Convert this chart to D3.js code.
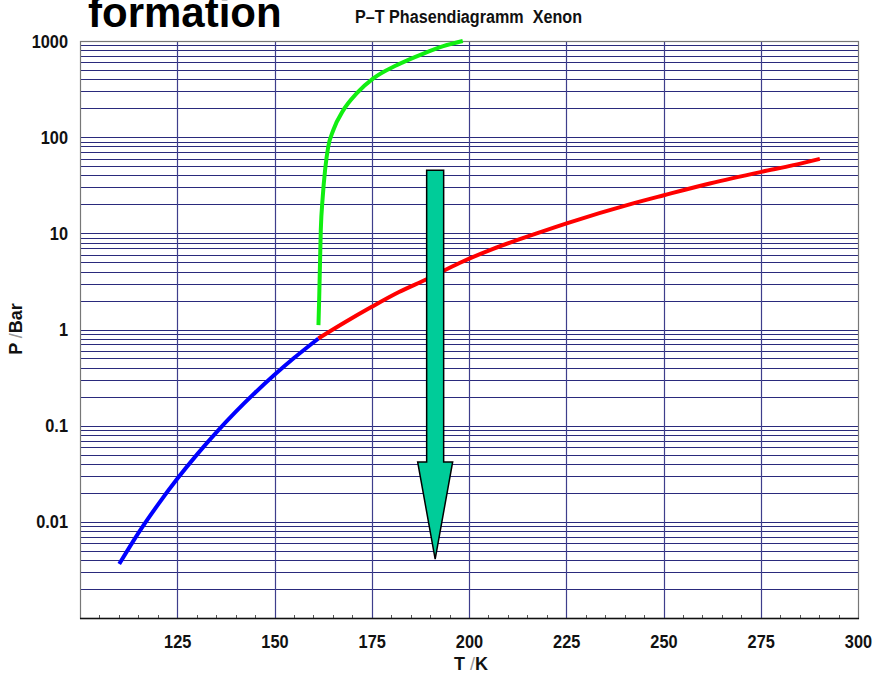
<!DOCTYPE html>
<html>
<head>
<meta charset="utf-8">
<script src="https://cdn.jsdelivr.net/npm/d3@7"></script>
<style>
  html, body { margin: 0; padding: 0; background: #fff; }
  svg { display: block; }
</style>
</head>
<body>
<svg id="chart" width="873" height="676"></svg>
<script>
// Xenon P–T phase diagram: sublimation, vapour-pressure and melting curves

// Sublimation curve (solid – vapour), T in K, P in bar
const sublimationT = [110.1, 115, 120, 125, 130, 135, 140, 145, 150, 155, 161.3];
const sublimationP = [0.00365, 0.00764, 0.0150, 0.0280, 0.0497, 0.0847, 0.139, 0.220, 0.338, 0.505, 0.807];

// Vapour-pressure curve (liquid – vapour) up to the critical point
const vaporT = [161.3, 168, 175, 182, 189.1, 197.7, 206.2, 217.4, 225.1, 242.2, 250.1, 261.9, 275.2, 283.4, 290.2];
const vaporP = [0.807, 1.18, 1.72, 2.45, 3.33, 4.95, 6.90, 9.98, 12.7, 20.5, 24.9, 33.0, 43.6, 51.2, 59.5];

// Melting curve (solid – liquid)
const meltingT = [161.3, 161.5, 161.9, 162.4, 163.0, 163.8, 165.1, 167.7, 171.1, 175.4, 181.4, 188.3, 193.4, 198.4];
const meltingP = [1.11, 2.19, 10.8, 23.9, 45.4, 79, 118, 191, 285, 408, 560, 741, 883, 1000];

// Isothermal pressure drop marked by the arrow (T, start P, head base P, tip P)
const arrowT = 191.3;
const arrowFromP = 45.4;
const arrowHeadP = 0.042;
const arrowToP = 0.0041;

// Axis ticks
const xTicks = [125, 150, 175, 200, 225, 250, 275, 300];
const yTicks = [0.01, 0.1, 1, 10, 100, 1000];

const titleText = "formation";
const subtitleText = "P\u2013T Phasendiagramm  Xenon";

const svg = d3.select("#chart");
const W = 873, H = 676;
const margin = { left: 80, right: 15, top: 41, bottom: 58 };
const x0 = margin.left, x1 = W - margin.right;
const y0 = H - margin.bottom, y1 = margin.top;

const x = d3.scaleLinear().domain([100, 300]).range([x0, x1]);
const y = d3.scaleLog().domain([0.001, 1000]).range([y0, y1]);

const FONT = "'Liberation Sans', Arial, sans-serif";
const gridColor = "#2a2a7c";

// Squeeze a text horizontally to mimic a condensed face
function condense(sel, factor) {
  sel.each(function () {
    const len = this.getComputedTextLength();
    d3.select(this).attr("textLength", len * factor).attr("lengthAdjust", "spacingAndGlyphs");
  });
}

svg.append("rect").attr("width", W).attr("height", H).attr("fill", "#fff");

// Horizontal grid: every 1..9 x 10^n
const yGrid = [];
for (let e = -3; e <= 2; e++) {
  for (let k = 1; k <= 9; k++) {
    const v = k * Math.pow(10, e);
    if (v > 0.001) yGrid.push(v);
  }
}
svg.append("g").selectAll("line").data(yGrid).join("line")
  .attr("x1", x0).attr("x2", x1)
  .attr("y1", d => Math.round(y(d)) + 0.5).attr("y2", d => Math.round(y(d)) + 0.5)
  .attr("stroke", gridColor).attr("stroke-width", 1);

// Vertical grid at the labelled temperatures
svg.append("g").selectAll("line").data(xTicks.filter(t => t < 300)).join("line")
  .attr("x1", d => Math.round(x(d)) + 0.5).attr("x2", d => Math.round(x(d)) + 0.5)
  .attr("y1", y1).attr("y2", y0)
  .attr("stroke", "#3e3e8c").attr("stroke-width", 1.2);

// Minor x ticks every 5 K, pointing into the plot
const minorX = d3.range(105, 300, 5).filter(t => t % 25 !== 0);
svg.append("g").selectAll("line").data(minorX).join("line")
  .attr("x1", d => Math.round(x(d)) + 0.5).attr("x2", d => Math.round(x(d)) + 0.5)
  .attr("y1", y0).attr("y2", y0 - 3)
  .attr("stroke", "#555").attr("stroke-width", 1);

// Plot frame
svg.append("rect")
  .attr("x", x0 + 0.5).attr("y", y1 + 0.5)
  .attr("width", x1 - x0).attr("height", y0 - y1)
  .attr("fill", "none").attr("stroke", "#777").attr("stroke-width", 1.2);
svg.append("line")
  .attr("x1", x0).attr("x2", x1 + 1).attr("y1", y0 + 0.5).attr("y2", y0 + 0.5)
  .attr("stroke", "#111").attr("stroke-width", 1.5);

// Axes (labels only; grid drawn above)
const xAxis = d3.axisBottom(x).tickValues(xTicks).tickSize(0).tickPadding(17)
  .tickFormat(d3.format("d"));
const gx = svg.append("g").attr("transform", `translate(0,${y0})`).call(xAxis);
gx.select(".domain").remove();
gx.selectAll("text").attr("font-family", FONT).attr("font-size", 19)
  .attr("font-weight", "bold").attr("fill", "#111");
condense(gx.selectAll("text"), 0.86);

const yAxis = d3.axisLeft(y).tickValues(yTicks).tickSize(0).tickPadding(12)
  .tickFormat(d3.format("~g"));
const gy = svg.append("g").attr("transform", `translate(${x0},0)`).call(yAxis);
gy.select(".domain").remove();
gy.selectAll("text").attr("font-family", FONT).attr("font-size", 19)
  .attr("font-weight", "bold").attr("fill", "#111");
condense(gy.selectAll("text"), 0.86);

// Phase boundary curves
const line = d3.line().x(d => x(d[0])).y(d => y(d[1])).curve(d3.curveMonotoneX);
const curves = [
  { T: sublimationT, P: sublimationP, color: "#0000ff" },
  { T: vaporT, P: vaporP, color: "#ff0000" },
  { T: meltingT, P: meltingP, color: "#11ee11" }
];
svg.append("g").selectAll("path").data(curves).join("path")
  .attr("d", c => line(c.T.map((t, i) => [t, c.P[i]])))
  .attr("fill", "none")
  .attr("stroke", c => c.color)
  .attr("stroke-width", 4)
  .attr("stroke-linejoin", "round");

// Arrow: isothermal expansion
const ax = x(arrowT);
const shaftHalf = 8.5, headHalf = 17.5;
const ayTop = y(arrowFromP), ayHead = y(arrowHeadP), ayTip = y(arrowToP);
const arrowPts = [
  [ax - shaftHalf, ayTop], [ax + shaftHalf, ayTop], [ax + shaftHalf, ayHead],
  [ax + headHalf, ayHead], [ax, ayTip], [ax - headHalf, ayHead], [ax - shaftHalf, ayHead]
];
svg.append("path")
  .attr("d", "M" + arrowPts.map(p => p.join(",")).join("L") + "Z")
  .attr("fill", "#00cc99").attr("stroke", "#000").attr("stroke-width", 1.5)
  .attr("stroke-linejoin", "miter");

// Titles
svg.append("text")
  .attr("x", 88).attr("y", 27)
  .attr("font-family", FONT)
  .attr("font-weight", "bold").attr("font-size", 42).attr("fill", "#000")
  .text(titleText);

svg.append("text")
  .attr("x", 355).attr("y", 23)
  .attr("font-family", FONT).attr("font-weight", "bold").attr("font-size", 18)
  .attr("textLength", 227).attr("lengthAdjust", "spacingAndGlyphs")
  .attr("fill", "#111").attr("xml:space", "preserve")
  .text(subtitleText);

// Axis titles
const xTitle = svg.append("text")
  .attr("x", 471).attr("y", 670).attr("text-anchor", "middle")
  .attr("font-family", FONT).attr("font-weight", "bold").attr("font-size", 18).attr("fill", "#111");
xTitle.append("tspan").text("T ");
xTitle.append("tspan").attr("font-weight", "normal").attr("fill", "#999").text("/");
xTitle.append("tspan").text("K");

const yTitle = svg.append("text")
  .attr("transform", "translate(22,329) rotate(-90)").attr("text-anchor", "middle")
  .attr("font-family", FONT).attr("font-weight", "bold").attr("font-size", 18).attr("fill", "#111");
yTitle.append("tspan").text("P ");
yTitle.append("tspan").attr("font-weight", "normal").attr("fill", "#999").text("/");
yTitle.append("tspan").text("Bar");
</script>
</body>
</html>
